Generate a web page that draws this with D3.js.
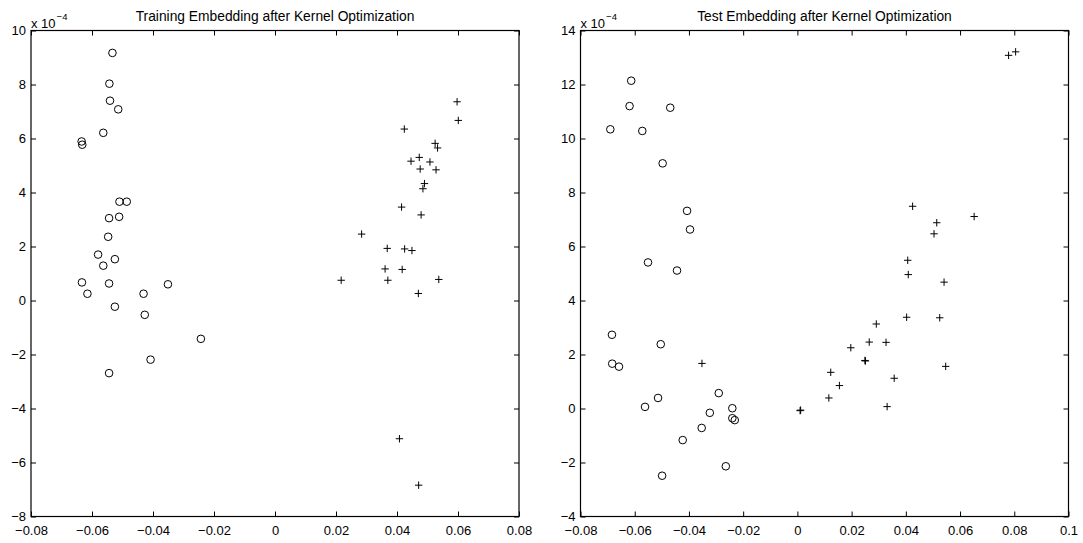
<!DOCTYPE html>
<html>
<head>
<meta charset="utf-8">
<script src="https://cdn.jsdelivr.net/npm/d3@7"></script>
<style>
  body { margin: 0; background: #fff; }
  svg { display: block; }
  text { font-family: "Liberation Sans", Arial, Helvetica, sans-serif; fill: #000; }
</style>
</head>
<body>
<svg id="chart" width="1083" height="543"></svg>
<script>
// Embedding coordinates: [dimension 1, dimension 2 (in units of 1e-4)]
const trainClassO = [
  [-0.0533, 9.17], [-0.0543, 8.03], [-0.0541, 7.40], [-0.0514, 7.08], [-0.0563, 6.21],
  [-0.0634, 5.89], [-0.0632, 5.77], [-0.0510, 3.66], [-0.0486, 3.66], [-0.0544, 3.05],
  [-0.0511, 3.10], [-0.0547, 2.36], [-0.0580, 1.70], [-0.0525, 1.53], [-0.0563, 1.29],
  [-0.0633, 0.67], [-0.0544, 0.63], [-0.0615, 0.25], [-0.0431, 0.25], [-0.0351, 0.60],
  [-0.0525, -0.23], [-0.0427, -0.53], [-0.0243, -1.42], [-0.0408, -2.19], [-0.0544, -2.69]
];
const trainClassPlus = [
  [0.0597, 7.36], [0.0601, 6.67], [0.0424, 6.35], [0.0525, 5.82], [0.0533, 5.65],
  [0.0446, 5.16], [0.0473, 5.30], [0.0508, 5.13], [0.0476, 4.87], [0.0528, 4.84],
  [0.0490, 4.33], [0.0485, 4.14], [0.0415, 3.46], [0.0479, 3.17], [0.0284, 2.46],
  [0.0368, 1.93], [0.0425, 1.91], [0.0449, 1.85], [0.0361, 1.17], [0.0417, 1.15],
  [0.0217, 0.75], [0.0370, 0.75], [0.0537, 0.78], [0.0470, 0.26], [0.0408, -5.12],
  [0.0471, -6.84]
];
const testClassO = [
  [-0.0613, 12.14], [-0.0619, 11.20], [-0.0469, 11.14], [-0.0690, 10.34], [-0.0572, 10.28],
  [-0.0497, 9.08], [-0.0407, 7.32], [-0.0396, 6.63], [-0.0551, 5.41], [-0.0444, 5.11],
  [-0.0684, 2.73], [-0.0683, 1.66], [-0.0658, 1.55], [-0.0504, 2.38], [-0.0290, 0.57],
  [-0.0562, 0.06], [-0.0514, 0.39], [-0.0323, -0.16], [-0.0240, 0.01], [-0.0240, -0.36],
  [-0.0231, -0.43], [-0.0353, -0.72], [-0.0423, -1.17], [-0.0264, -2.14], [-0.0499, -2.49]
];
const testClassPlus = [
  [0.0779, 13.08], [0.0805, 13.21], [0.0425, 7.49], [0.0514, 6.88], [0.0504, 6.47],
  [0.0652, 7.11], [0.0407, 5.49], [0.0409, 4.96], [0.0541, 4.68], [0.0403, 3.38],
  [0.0525, 3.36], [0.0291, 3.13], [0.0265, 2.46], [0.0327, 2.45], [0.0197, 2.25],
  [0.0249, 1.78], [0.0251, 1.76], [0.0547, 1.56], [0.0123, 1.34], [0.0155, 0.85],
  [0.0357, 1.12], [0.0116, 0.39], [0.0331, 0.07], [0.0010, -0.08], [0.0012, -0.06],
  [-0.0352, 1.67]
];

// Axis ticks
const trainXTicks = [-0.08, -0.06, -0.04, -0.02, 0, 0.02, 0.04, 0.06, 0.08];
const trainYTicks = [-8, -6, -4, -2, 0, 2, 4, 6, 8, 10];
const testXTicks = [-0.08, -0.06, -0.04, -0.02, 0, 0.02, 0.04, 0.06, 0.08, 0.1];
const testYTicks = [-4, -2, 0, 2, 4, 6, 8, 10, 12, 14];

const titles = ["Training Embedding after Kernel Optimization", "Test Embedding after Kernel Optimization"];
const exponentBase = "x 10";
const exponentPower = "\u22124";

const panels = [
  { title: titles[0], circles: trainClassO, pluses: trainClassPlus, xTicks: trainXTicks, yTicks: trainYTicks, left: 31, right: 519 },
  { title: titles[1], circles: testClassO, pluses: testClassPlus, xTicks: testXTicks, yTicks: testYTicks, left: 580.5, right: 1068.5 }
];
const plotTop = 30.5, plotBottom = 516.5;
const fontSize = 13;
const titleSize = 13.8;
const tickLen = 5;

const fmt = v => {
  if (v === 0) return "0";
  const s = String(+v.toFixed(2));
  return s.replace("-", "\u2212");
};

const svg = d3.select("#chart");

panels.forEach(p => {
  const x = d3.scaleLinear().domain([p.xTicks[0], p.xTicks[p.xTicks.length - 1]]).range([p.left, p.right]);
  const y = d3.scaleLinear().domain([p.yTicks[0], p.yTicks[p.yTicks.length - 1]]).range([plotBottom, plotTop]);
  const g = svg.append("g");

  // Axes with inward ticks on all four sides
  const styleAxis = sel => {
    sel.selectAll(".domain").remove();
    sel.selectAll(".tick line").attr("stroke", "#000").attr("stroke-width", 1);
    sel.selectAll(".tick text").attr("font-size", fontSize).attr("fill", "#000")
      .attr("font-family", "\"Liberation Sans\", Arial, sans-serif");
  };

  g.append("g").attr("transform", `translate(0,${plotBottom})`)
    .call(d3.axisBottom(x).tickValues(p.xTicks).tickFormat(fmt).tickSizeInner(-tickLen).tickSizeOuter(0).tickPadding(9.5))
    .call(styleAxis);
  g.append("g").attr("transform", `translate(0,${plotTop})`)
    .call(d3.axisTop(x).tickValues(p.xTicks).tickFormat("").tickSizeInner(-tickLen).tickSizeOuter(0))
    .call(styleAxis);
  g.append("g").attr("transform", `translate(${p.left},0)`)
    .call(d3.axisLeft(y).tickValues(p.yTicks).tickFormat(fmt).tickSizeInner(-tickLen).tickSizeOuter(0).tickPadding(5))
    .call(styleAxis);
  g.append("g").attr("transform", `translate(${p.right},0)`)
    .call(d3.axisRight(y).tickValues(p.yTicks).tickFormat("").tickSizeInner(-tickLen).tickSizeOuter(0))
    .call(styleAxis);

  // Plot box
  g.append("rect")
    .attr("x", p.left).attr("y", plotTop)
    .attr("width", p.right - p.left).attr("height", plotBottom - plotTop)
    .attr("fill", "none").attr("stroke", "#000").attr("stroke-width", 1.2);

  // Circle markers
  g.append("g").selectAll("circle").data(p.circles).join("circle")
    .attr("cx", d => x(d[0])).attr("cy", d => y(d[1]))
    .attr("r", 3.8).attr("fill", "none").attr("stroke", "#000").attr("stroke-width", 1);

  // Plus markers
  const arm = 3.7;
  g.append("g").selectAll("path").data(p.pluses).join("path")
    .attr("d", d => {
      const cx = x(d[0]), cy = y(d[1]);
      return `M${cx - arm},${cy}H${cx + arm}M${cx},${cy - arm}V${cy + arm}`;
    })
    .attr("fill", "none").attr("stroke", "#000").attr("stroke-width", 1);

  // Title
  g.append("text")
    .attr("x", (p.left + p.right) / 2).attr("y", 21)
    .attr("text-anchor", "middle").attr("font-size", titleSize)
    .text(p.title);

  // Axis exponent
  const ex = g.append("text").attr("x", p.left).attr("y", 27.5).attr("font-size", fontSize);
  ex.append("tspan").text(exponentBase);
  ex.append("tspan").attr("dy", -8).attr("dx", 1).attr("font-size", 9.5).text(exponentPower);
});
</script>
</body>
</html>
